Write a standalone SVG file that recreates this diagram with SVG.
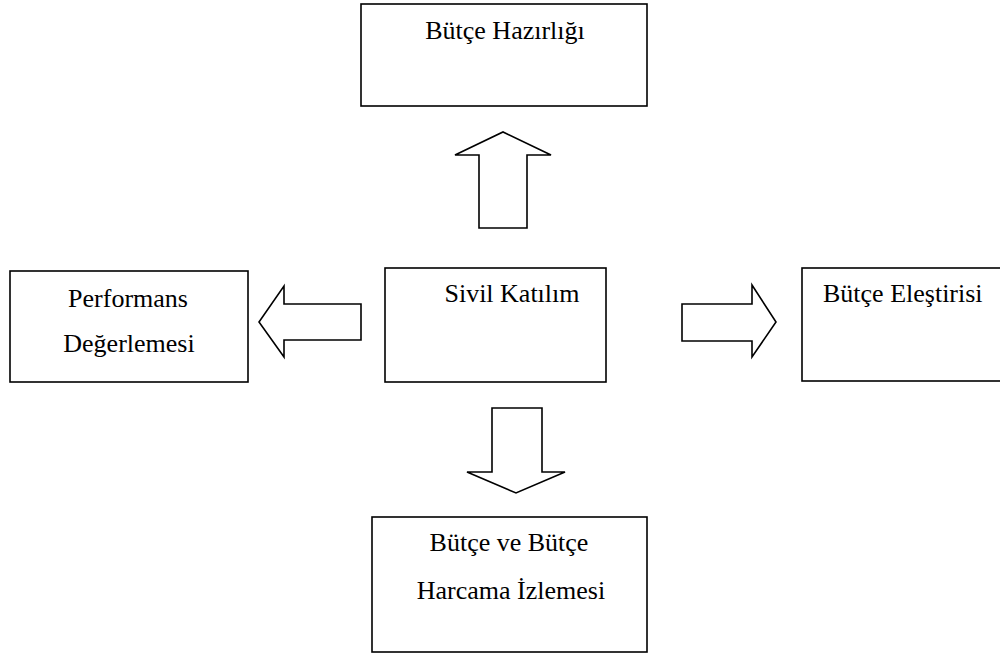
<svg xmlns="http://www.w3.org/2000/svg" width="1000" height="664" viewBox="0 0 1000 664">
<style>
.box{fill:#fff;stroke:#000;stroke-width:1.6}
.arr{fill:#fff;stroke:#000;stroke-width:1.6;stroke-linejoin:miter}
.t{font-family:"Liberation Serif","Times New Roman","DejaVu Serif",serif;font-size:26px;fill:#000;text-anchor:middle}
</style>
<rect width="1000" height="664" fill="#fff"/>
<g id="butce-hazirligi">
<rect class="box" x="361" y="4" width="286" height="102"/>
<text class="t" x="505" y="39">Bütçe Hazırlığı</text>
</g>
<g id="performans">
<rect class="box" x="10" y="271" width="238" height="111"/>
<text class="t" x="128" y="307">Performans</text>
<text class="t" x="129" y="352">Değerlemesi</text>
</g>
<g id="sivil-katilim">
<rect class="box" x="385" y="268" width="221" height="114"/>
<text class="t" x="512" y="302">Sivil Katılım</text>
</g>
<g id="butce-elestirisi">
<rect class="box" x="802" y="268" width="210" height="113"/>
<text class="t" x="823" y="302" style="text-anchor:start">Bütçe Eleştirisi</text>
</g>
<g id="butce-izleme">
<rect class="box" x="372" y="517" width="275" height="135"/>
<text class="t" x="509" y="551">Bütçe ve Bütçe</text>
<text class="t" x="511" y="599">Harcama İzlemesi</text>
</g>
<g id="connectors">
<polygon class="arr" points="479,228 479,155 455,155 503,132 551,155 527,155 527,228"/>
<polygon class="arr" points="361,304 284,304 284,286 259,322 284,357 284,340 361,340"/>
<polygon class="arr" points="682,304 752,304 752,285 776,322 752,357 752,341 682,341"/>
<polygon class="arr" points="492,408 542,408 542,472 565,472 516,493 467,472 492,472"/>
</g>
</svg>
